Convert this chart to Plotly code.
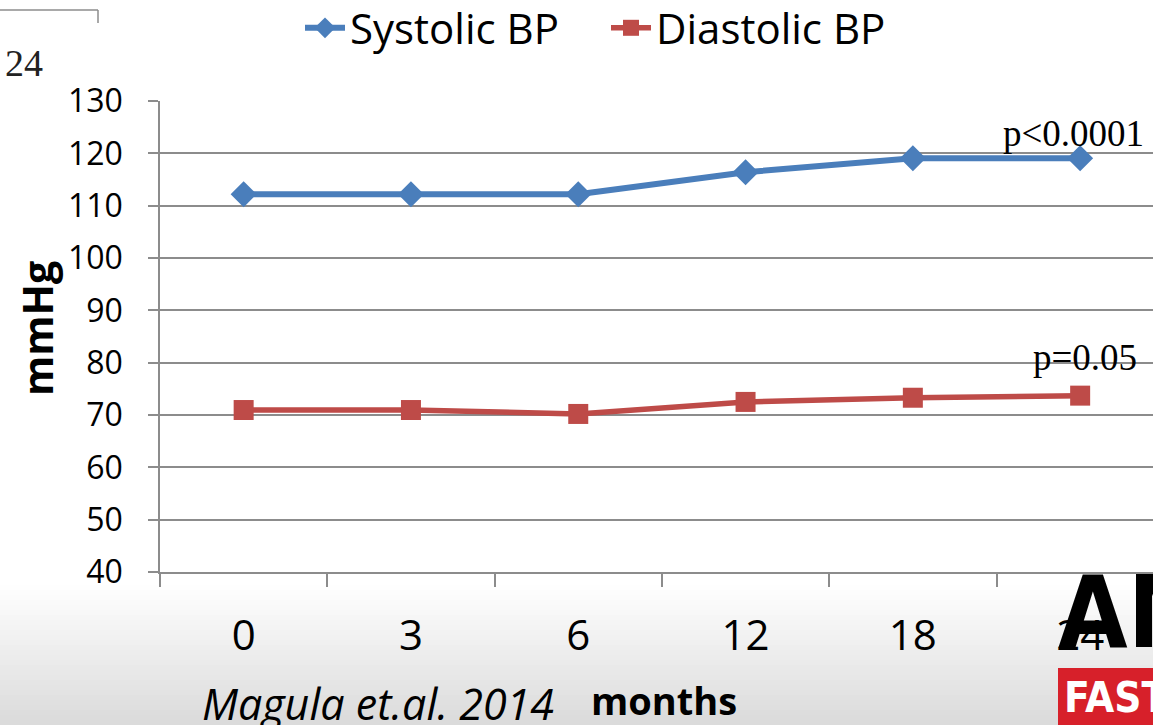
import plotly.graph_objects as go

months = ["0", "3", "6", "12", "18", "24"]
systolic = [112.2, 112.2, 112.2, 116.4, 119.05, 119.05]
diastolic = [70.95, 70.95, 70.2, 72.5, 73.3, 73.7]
y_ticks = [40, 50, 60, 70, 80, 90, 100, 110, 120, 130]

W, H = 1153, 725
L, T, B = 160, 101, 572
PW = W - L
PH = B - T

def px(x):
    return (x - L) / PW

def py(y):
    return (B - y) / PH

fig = go.Figure()
fig.add_trace(go.Scatter(
    x=months, y=systolic, name="Systolic BP", mode="lines+markers",
    line=dict(color="#4a7ebb", width=6),
    marker=dict(symbol="diamond", size=20, color="#4a7ebb"),
))
fig.add_trace(go.Scatter(
    x=months, y=diastolic, name="Diastolic BP", mode="lines+markers",
    line=dict(color="#be4b48", width=5.5),
    marker=dict(symbol="square", size=20, color="#be4b48"),
))

shapes = []
# background gradient at bottom
n = 28
y0 = 585
for i in range(n):
    a = y0 + (H - y0) * i / n
    b = y0 + (H - y0) * (i + 1) / n + 1
    t = (i + 0.5) / n
    g = int(round(255 - (255 - 218) * t))
    shapes.append(dict(type="rect", xref="paper", yref="paper",
                       x0=px(0), x1=px(W + 5), y0=py(b), y1=py(a),
                       fillcolor=f"rgb({g},{g},{g})", line=dict(width=0), layer="below"))
# top-left decoration
shapes.append(dict(type="line", xref="paper", yref="paper",
                   x0=px(0), x1=px(98), y0=py(10), y1=py(10),
                   line=dict(color="#8c8c8c", width=1.5)))
shapes.append(dict(type="line", xref="paper", yref="paper",
                   x0=px(98), x1=px(98), y0=py(10), y1=py(23),
                   line=dict(color="#8c8c8c", width=1.5)))
# logo red box
shapes.append(dict(type="rect", xref="paper", yref="paper",
                   x0=px(1058), x1=px(W + 5), y0=py(H + 5), y1=py(668),
                   fillcolor="#d7202a", line=dict(width=0), layer="above"))

annotations = [
    dict(text="24", x=px(2.5), y=py(63), xref="paper", yref="paper", xanchor="left",
         yanchor="middle", showarrow=False,
         font=dict(family="Liberation Serif", size=38, color="#222")),
    dict(text="<b>mmHg</b>", x=px(37), y=py(329), xref="paper", yref="paper",
         textangle=-90, showarrow=False, xanchor="center", yanchor="middle",
         font=dict(family="Open Sans", size=41, color="#000")),
    dict(text="<b>months</b>", x=px(664), y=py(700), xref="paper", yref="paper",
         showarrow=False, xanchor="center", yanchor="middle",
         font=dict(family="Open Sans", size=38, color="#000")),
    dict(text="<i>Magula et.al. 2014</i>", x=px(378), y=py(703), xref="paper", yref="paper",
         showarrow=False, xanchor="center", yanchor="middle",
         font=dict(family="Open Sans", size=43, color="#000")),
    dict(text="p<0.0001", x=px(1073), y=py(133), xref="paper", yref="paper",
         showarrow=False, xanchor="center", yanchor="middle",
         font=dict(family="Liberation Serif", size=37, color="#000")),
    dict(text="p=0.05", x=px(1085), y=py(357), xref="paper", yref="paper",
         showarrow=False, xanchor="center", yanchor="middle",
         font=dict(family="Liberation Serif", size=37, color="#000")),
    dict(text="<b>AM</b>", x=px(1056), y=py(612), xref="paper", yref="paper",
         showarrow=False, xanchor="left", yanchor="middle",
         font=dict(family="DejaVu Sans Condensed, DejaVu Sans", size=100, color="#000")),
    dict(text="<b>FAST-</b>", x=px(1062), y=py(697), xref="paper", yref="paper",
         showarrow=False, xanchor="left", yanchor="middle",
         font=dict(family="DejaVu Sans Condensed, DejaVu Sans", size=42, color="#fff")),
]

fig.update_layout(
    width=W, height=H,
    margin=dict(l=L, r=0, t=T, b=H - B, pad=0, autoexpand=False),
    paper_bgcolor="white", plot_bgcolor="rgba(0,0,0,0)",
    showlegend=True,
    legend=dict(orientation="h", x=px(606), y=py(28), xanchor="center", yanchor="middle",
                font=dict(family="Open Sans", size=42, color="#000"),
                bgcolor="rgba(0,0,0,0)", itemwidth=40, tracegroupgap=0,
                entrywidth=251),
    xaxis=dict(type="category", range=[-0.5, -0.5 + PW / 167.3],
               showgrid=False, showline=True, linecolor="#8c8c8c", linewidth=1.5,
               ticks="outside", ticklen=13, tickcolor="#8c8c8c", tickwidth=1.5,
               tickson="boundaries", ticklabelstandoff=26,
               tickfont=dict(family="Open Sans", size=42, color="#000")),
    yaxis=dict(range=[40, 130], tickvals=y_ticks, showgrid=True,
               gridcolor="#8c8c8c", gridwidth=1.5, zeroline=False,
               showline=True, linecolor="#8c8c8c", linewidth=1.5,
               ticks="outside", ticklen=10, tickcolor="#8c8c8c", tickwidth=1.5,
               ticklabelstandoff=19,
               tickfont=dict(family="Open Sans", size=32, color="#000")),
    shapes=shapes, annotations=annotations,
)

fig.write_html("out.html", config={"displayModeBar": False},
               post_script="document.body.style.margin='0px';document.body.style.overflow='hidden';")
